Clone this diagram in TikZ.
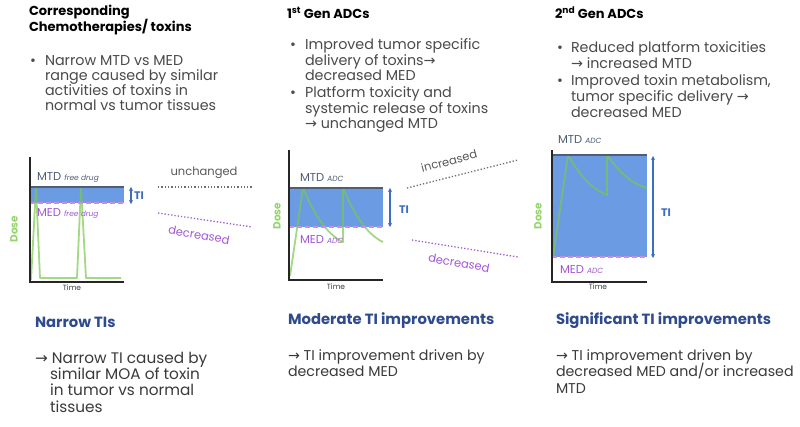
\documentclass[tikz,border=0pt]{standalone}
\usepackage{fontspec}
\setmainfont{Poppins}
\newfontfamily\arrfont{DejaVu Sans}
\usetikzlibrary{arrows.meta}
\definecolor{bodygray}{HTML}{4A4A4A}
\definecolor{navy}{HTML}{2F4B8E}
\definecolor{btmgray}{HTML}{3A3A3A}
\definecolor{bandblue}{HTML}{6A9BE3}
\definecolor{slate}{HTML}{4F5D75}
\definecolor{purp}{HTML}{A257D4}
\definecolor{purpline}{HTML}{C98EE6}
\definecolor{gcol}{HTML}{7CC850}
\definecolor{doseg}{HTML}{94D46C}
\definecolor{tiblue}{HTML}{3D6EC0}
\definecolor{dotgray}{HTML}{6E6E6E}
\newcommand{\myarr}{{\arrfont\char"2192}}
\newcommand{\smit}[1]{{\fontsize{7.5}{9}\selectfont\itshape #1}}
\begin{document}
\begin{tikzpicture}[x=1pt,y=-1pt,
  every node/.style={inner sep=0pt,outer sep=0pt},
  hdr/.style={anchor=base west,font=\fontsize{13}{15}\selectfont\bfseries,text=black},
  bul/.style={anchor=base west,font=\fontsize{14.3}{15}\selectfont,text=bodygray},
  bhdr/.style={anchor=base west,font=\fontsize{14.8}{16}\selectfont\bfseries,text=navy},
  btm/.style={anchor=base west,font=\fontsize{14.2}{16}\selectfont,text=btmgray},
  btml/.style={anchor=base west,font=\fontsize{15.3}{16}\selectfont,text=btmgray},
  mtdlbl/.style={anchor=base west,font=\fontsize{11.5}{13}\selectfont,text=slate},
  medlbl/.style={anchor=base west,font=\fontsize{11.5}{13}\selectfont,text=purp},
  timelbl/.style={font=\fontsize{7.5}{9}\selectfont,text=btmgray},
  doselbl/.style={font=\fontsize{10.5}{12}\selectfont\bfseries,text=doseg,rotate=90},
  tilbl/.style={anchor=west,font=\fontsize{11}{13}\selectfont\bfseries,text=tiblue},
  chglbl/.style={font=\fontsize{11.5}{13}\selectfont},
  axisline/.style={draw=black!85,line width=1.1pt},
  mtdline/.style={draw=slate,line width=1.8pt},
  medline/.style={draw=purpline,line width=1.6pt,dash pattern=on 5pt off 3pt},
  gline/.style={draw=gcol,line width=1.8pt,opacity=0.7,line join=round},
  tiarrow/.style={draw=tiblue,line width=1.1pt,{Stealth[length=4pt,width=4pt]}-{Stealth[length=4pt,width=4pt]}},
  dotline/.style={line width=1.3pt,dash pattern=on 1.3pt off 2pt},
  fillband/.style={fill=bandblue}
]
\useasboundingbox (0,0) rectangle (800,426);
\fill[white] (0,0) rectangle (800,426);

% ---------- Column 1 text ----------
\node[hdr] (h1a) at (29,15) {Corresponding};
\node[hdr] (h1b) at (29,31) {Chemotherapies/ toxins};
\node[bul] (b1) at (30,65) {•};
\node[bul] (t1a) at (45,65) {Narrow MTD vs MED};
\node[bul] (t1b) at (45,80) {range caused by similar};
\node[bul] (t1c) at (45,95) {activities of toxins in};
\node[bul] (t1d) at (45,110) {normal vs tumor tissues};

% ---------- Column 2 text ----------
\node[hdr] (h2) at (287,18) {1\textsuperscript{st} Gen ADCs};
\node[bul] (b2a) at (290,49) {•};
\node[bul] (t2a) at (305,49) {Improved tumor specific};
\node[bul] (t2b) at (305,65) {delivery of toxins\myarr};
\node[bul] (t2c) at (305,80) {decreased MED};
\node[bul] (b2b) at (290,97) {•};
\node[bul] (t2d) at (305,97) {Platform toxicity and};
\node[bul] (t2e) at (305,113) {systemic release of toxins};
\node[bul] (t2f) at (305,128) {\myarr{} unchanged MTD};

% ---------- Column 3 text ----------
\node[hdr] (h3) at (555,18) {2\textsuperscript{nd} Gen ADCs};
\node[bul] (b3a) at (557,52) {•};
\node[bul] (t3a) at (571,52) {Reduced platform toxicities};
\node[bul] (t3b) at (571,68) {\myarr{} increased MTD};
\node[bul] (b3b) at (557,85) {•};
\node[bul] (t3c) at (571,85) {Improved toxin metabolism,};
\node[bul] (t3d) at (571,101) {tumor specific delivery \myarr};
\node[bul] (t3e) at (571,117) {decreased MED};

% ---------- Chart 1 ----------
\fill[fillband] (30,187) rectangle (124,203);
\draw[gline] (31,280) -- (36,187) -- (40,278) -- (77,278) -- (81,187) -- (86,278) -- (121,278);
\draw[mtdline] (30,187) -- (124,187);
\draw[medline] (30,203) -- (124,203);
\draw[axisline] (30,157) -- (30,282) -- (124,282);
\node[mtdlbl] (mtd1) at (37,180) {MTD \smit{free drug}};
\node[medlbl] (med1) at (37,216) {MED \smit{free drug}};
\coordinate (ti1t) at (131,187);
\coordinate (ti1b) at (131,204);
\draw[tiarrow] (ti1t) -- (ti1b);
\node[tilbl] (ti1) at (134,196) {TI};
\node[timelbl] (time1) at (72,288) {Time};
\node[doselbl] (dose1) at (14,229) {Dose};

% connectors 1 -> 2
\coordinate (u1s) at (158,187);
\coordinate (u1e) at (252,187);
\coordinate (d1s) at (158,213);
\coordinate (d1e) at (252,227);
\draw[dotline,draw=dotgray] (u1s) -- (u1e);
\draw[dotline,draw=purp] (d1s) -- (d1e);
\node[chglbl,text=dotgray!80!black] (unch) at (204,173) {unchanged};
\node[chglbl,text=purp,rotate=-10] (dec1) at (199,235) {decreased};

% ---------- Chart 2 ----------
\fill[fillband] (289,188) rectangle (383,227);
\draw[gline] (290,276) -- (303,188) .. controls (313,212) and (326,234) .. (343,242) -- (343,188) .. controls (353,212) and (366,234) .. (383,242);
\draw[mtdline] (289,188) -- (383,188);
\draw[medline] (289,227) -- (383,227);
\draw[axisline] (289,150) -- (289,280) -- (383,280);
\node[mtdlbl] (mtd2) at (300,181) {MTD \smit{ADC}};
\node[medlbl] (med2) at (300,243) {MED \smit{ADC}};
\coordinate (ti2t) at (390,188);
\coordinate (ti2b) at (390,227);
\draw[tiarrow] (ti2t) -- (ti2b);
\node[tilbl] (ti2) at (399,210) {TI};
\node[timelbl] (time2) at (336,287) {Time};
\node[doselbl] (dose2) at (277,216) {Dose};

% connectors 2 -> 3
\coordinate (i2s) at (407,188);
\coordinate (i2e) at (518,160);
\coordinate (d2s) at (412,240);
\coordinate (d2e) at (518,257);
\draw[dotline,draw=dotgray] (i2s) -- (i2e);
\draw[dotline,draw=purp] (d2s) -- (d2e);
\node[chglbl,text=dotgray!80!black,rotate=15] (inc2) at (449,161) {increased};
\node[chglbl,text=purp,rotate=-10] (dec2) at (459,263) {decreased};

% ---------- Chart 3 ----------
\fill[fillband] (552,155) rectangle (647,257);
\draw[gline] (553,257) -- (568,155) .. controls (580,176) and (592,189) .. (607,195) -- (607,155) .. controls (619,172) and (632,184) .. (647,188);
\draw[mtdline] (552,155) -- (647,155);
\draw[medline] (552,257) -- (647,257);
\draw[axisline] (552,150) -- (552,282) -- (647,282);
\node[mtdlbl] (mtd3) at (558,143) {MTD \smit{ADC}};
\node[medlbl] (med3) at (560,273) {MED \smit{ADC}};
\coordinate (ti3t) at (653,156);
\coordinate (ti3b) at (653,258);
\draw[tiarrow] (ti3t) -- (ti3b);
\node[tilbl] (ti3) at (661,213) {TI};
\node[timelbl] (time3) at (598,287) {Time};
\node[doselbl] (dose3) at (538,216) {Dose};

% ---------- Bottom texts ----------
\node[bhdr] (n1) at (35,327) {Narrow TIs};
\node[btml] (n1a) at (35,363) {\myarr{} Narrow TI caused by};
\node[btml] (n1b) at (50,379) {similar MOA of toxin};
\node[btml] (n1c) at (50,395) {in tumor vs normal};
\node[btml] (n1d) at (50,412) {tissues};

\node[bhdr] (n2) at (288,324) {Moderate TI improvements};
\node[btm] (n2a) at (288,360) {\myarr{} TI improvement driven by};
\node[btm] (n2b) at (288,376) {decreased MED};

\node[bhdr] (n3) at (556,324) {Significant TI improvements};
\node[btm] (n3a) at (556,360) {\myarr{} TI improvement driven by};
\node[btm] (n3b) at (556,376) {decreased MED and/or increased};
\node[btm] (n3c) at (556,393) {MTD};
\end{tikzpicture}
\end{document}
